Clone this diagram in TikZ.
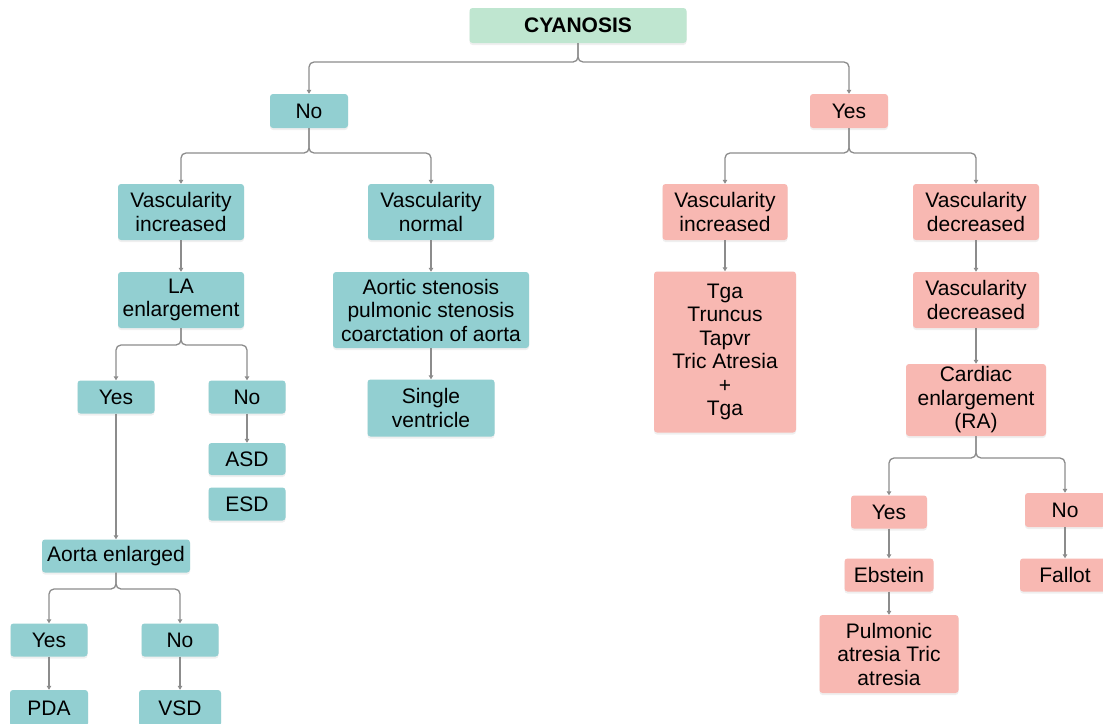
\documentclass[tikz,border=0pt]{standalone}
\usepackage{fontspec}
\setmainfont{Liberation Sans}
\usepackage{tikz}
\usetikzlibrary{arrows.meta, shadows}
\definecolor{noclr}{HTML}{92CFD1}
\definecolor{yesclr}{HTML}{F8B8B2}
\definecolor{headclr}{HTML}{BFE6D0}
\definecolor{lineclr}{HTML}{8C8C8C}
\tikzset{
    cbox/.style={rounded corners=3pt, inner sep=0pt, align=center, font=\fontsize{21}{23.5}\selectfont, drop shadow={shadow xshift=0pt, shadow yshift=-2pt, opacity=0.12}},
    headbox/.style={cbox, fill=headclr},
    nobox/.style={cbox, fill=noclr},
    yesbox/.style={cbox, fill=yesclr},
    flow/.style={draw=lineclr, line width=1.3pt, rounded corners=5pt, -{Triangle[length=4pt, width=4.5pt]}},
}

\begin{document}
\begin{tikzpicture}[x=1pt, y=-1pt]
        \clip (0,0) rectangle (1103,723);
        \fill[white] (0,0) rectangle (1103,723);
        \node[headbox, minimum width=217, minimum height=35] (cyan) at (578,25.5) {\textbf{CYANOSIS}};
        % no cyanosis
        \node[nobox, minimum width=78, minimum height=34] (no) at (309,111) {No};
        \node[nobox, minimum width=126, minimum height=56] (vinc) at (181,212) {Vascularity\\ increased};
        \node[nobox, minimum width=126, minimum height=56] (vnorm) at (431,212) {Vascularity\\ normal};
        \node[nobox, minimum width=126, minimum height=56] (la) at (181,300) {LA\\ enlargement};
        \node[nobox, minimum width=196, minimum height=76] (stenosis) at (431,310) {Aortic stenosis\\ pulmonic stenosis\\ coarctation of aorta};
        \node[nobox, minimum width=127, minimum height=57] (single) at (431,408) {Single\\ ventricle};
        \node[nobox, minimum width=77, minimum height=33] (layes) at (116,397) {Yes};
        \node[nobox, minimum width=77, minimum height=33] (lano) at (247,397) {No};
        \node[nobox, minimum width=77, minimum height=32] (asd) at (247,459) {ASD};
        \node[nobox, minimum width=77, minimum height=33] (esd) at (247,504) {ESD};
        \node[nobox, minimum width=148, minimum height=33] (aorta) at (116,556) {Aorta enlarged};
        \node[nobox, minimum width=77, minimum height=33] (aoyes) at (49,640) {Yes};
        \node[nobox, minimum width=77, minimum height=33] (aono) at (180,640) {No};
        \node[nobox, minimum width=78, minimum height=36] (pda) at (49,708) {PDA};
        \node[nobox, minimum width=82, minimum height=36] (vsd) at (180,708) {VSD};
        % cyanosis
        \node[yesbox, minimum width=78, minimum height=34] (yes) at (849,111) {Yes};
        \node[yesbox, minimum width=125, minimum height=56] (yinc) at (725,212) {Vascularity\\ increased};
        \node[yesbox, minimum width=126, minimum height=56] (ydec) at (976,212) {Vascularity\\ decreased};
        \node[yesbox, minimum width=142, minimum height=161] (tga) at (725,352) {Tga\\ Truncus\\ Tapvr\\ Tric Atresia\\ +\\ Tga};
        \node[yesbox, minimum width=126, minimum height=56] (ydec2) at (976,300) {Vascularity\\ decreased};
        \node[yesbox, minimum width=140, minimum height=72] (cardiac) at (976,400) {Cardiac\\ enlargement\\ (RA)};
        \node[yesbox, minimum width=76, minimum height=33] (cyes) at (889,512) {Yes};
        \node[yesbox, minimum width=80, minimum height=34] (cno) at (1065,510) {No};
        \node[yesbox, minimum width=89, minimum height=33] (ebstein) at (889,575) {Ebstein};
        \node[yesbox, minimum width=90, minimum height=33] (fallot) at (1065,575) {Fallot};
        \node[yesbox, minimum width=139, minimum height=78] (pulm) at (889,654) {Pulmonic\\ atresia Tric\\ atresia};
        % bus levels
        \coordinate (b0) at (0,62);
        \coordinate (b1) at (0,153);
        \coordinate (b2) at (0,345);
        \coordinate (b3) at (0,589);
        \coordinate (b4) at (0,458);
        \draw[flow] (cyan.south) -- (cyan.south |- b0) -| (no.north);
        \draw[flow] (cyan.south) -- (cyan.south |- b0) -| (yes.north);
        \draw[flow] (no.south) -- (no.south |- b1) -| (vinc.north);
        \draw[flow] (no.south) -- (no.south |- b1) -| (vnorm.north);
        \draw[flow] (yes.south) -- (yes.south |- b1) -| (yinc.north);
        \draw[flow] (yes.south) -- (yes.south |- b1) -| (ydec.north);
        \draw[flow] (la.south) -- (la.south |- b2) -| (layes.north);
        \draw[flow] (la.south) -- (la.south |- b2) -| (lano.north);
        \draw[flow] (aorta.south) -- (aorta.south |- b3) -| (aoyes.north);
        \draw[flow] (aorta.south) -- (aorta.south |- b3) -| (aono.north);
        \draw[flow] (cardiac.south) -- (cardiac.south |- b4) -| (cyes.north);
        \draw[flow] (cardiac.south) -- (cardiac.south |- b4) -| (cno.north);
        \draw[flow] (vinc) -- (la);
        \draw[flow] (vnorm) -- (stenosis);
        \draw[flow] (stenosis) -- (single);
        \draw[flow] (layes) -- (aorta);
        \draw[flow] (lano) -- (asd);
        \draw[flow] (aoyes) -- (pda);
        \draw[flow] (aono) -- (vsd);
        \draw[flow] (yinc) -- (tga);
        \draw[flow] (ydec) -- (ydec2);
        \draw[flow] (ydec2) -- (cardiac);
        \draw[flow] (cyes) -- (ebstein);
        \draw[flow] (ebstein) -- (pulm);
        \draw[flow] (cno) -- (fallot);
    \end{tikzpicture}
\end{document}
